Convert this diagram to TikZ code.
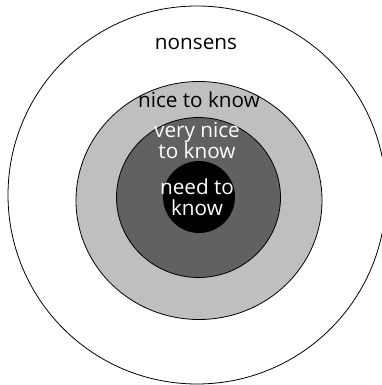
\documentclass[tikz,border=0pt]{standalone}
\usepackage{fontspec}
\setmainfont{Open Sans}
\definecolor{ringlight}{gray}{0.75}
\definecolor{ringdark}{gray}{0.38}
\begin{document}
\begin{tikzpicture}[x=1bp,y=-1bp,
  ring/.style={draw=black,line width=0.8bp},
  lbl/.style={font=\fontsize{20.8}{23}\selectfont,align=center,inner sep=0pt,anchor=base}]
\useasboundingbox (0,0) rectangle (382,385);
\clip (0,0) rectangle (382,385);
\fill[white] (0,0) rectangle (382,385);
\draw[ring,fill=white] (197,195) circle [radius=189];
\draw[ring,fill=ringlight] (199,200.5) ellipse [x radius=123,y radius=119];
\draw[ring,fill=ringdark] (198.5,197.5) ellipse [x radius=82,y radius=80];
\fill[black] (199,197) circle [radius=36];
\node[lbl] (nonsens) at (196,49) {nonsens};
\node[lbl] (nice) at (199,107) {nice to know};
\node[lbl,text=white] (verynice1) at (197,137) {very nice};
\node[lbl,text=white] (verynice2) at (197,158) {to know};
\node[lbl,text=white] (need1) at (197,194) {need to};
\node[lbl,text=white] (need2) at (197,215) {know};
\end{tikzpicture}
\end{document}
